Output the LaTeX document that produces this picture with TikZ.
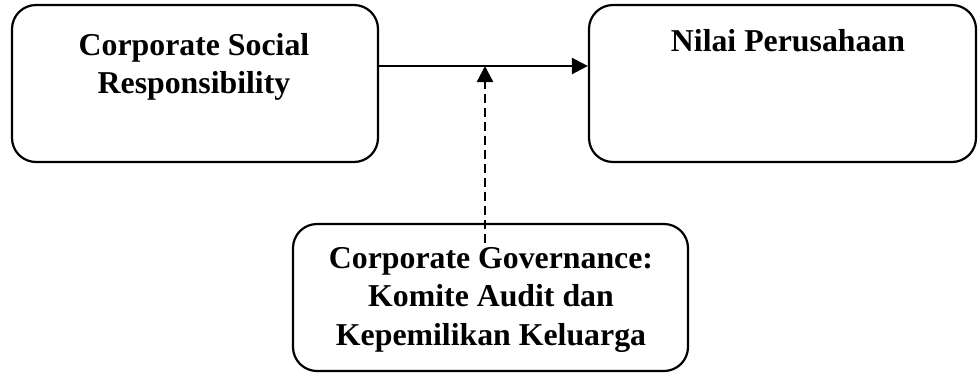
\documentclass[tikz,border=0pt]{standalone}
\usepackage{fontspec}
\setmainfont{Liberation Serif}
\usetikzlibrary{arrows.meta}
\begin{document}
\begin{tikzpicture}[x=1pt,y=-1pt,
  box/.style={draw, line width=2.2pt, rounded corners=24pt, inner sep=0pt},
  lbl/.style={font=\bfseries\fontsize{31.8}{38.5}\selectfont, align=center, inner sep=0pt, anchor=north},
  conn/.style={line width=2.4pt, -{Triangle[length=16pt,width=16pt]}},
  dconn/.style={conn, dash pattern=on 9pt off 5pt}]
\useasboundingbox (0,0) rectangle (978,373);
\node[box, minimum width=366pt, minimum height=157pt] (csr) at (195,83.5) {};
\node[box, minimum width=387pt, minimum height=157pt] (nv) at (782.5,83.5) {};
\node[box, minimum width=395pt, minimum height=147pt] (cg) at (490.5,297.5) {};
\node[lbl] (csrt) at (194,33) {Corporate Social\\Responsibility};
\node[lbl] (nvt) at (788,29.5) {Nilai Perusahaan};
\node[lbl] (cgt) at (491,247) {Corporate Governance:\\Komite Audit dan\\Kepemilikan Keluarga};
\coordinate (mid) at (485,66);
\coordinate (dstart) at (485,243);
\draw[conn] (csr.east |- mid) -- (nv.west |- mid);
\draw[dconn] (dstart) -- (mid);
\end{tikzpicture}
\end{document}
